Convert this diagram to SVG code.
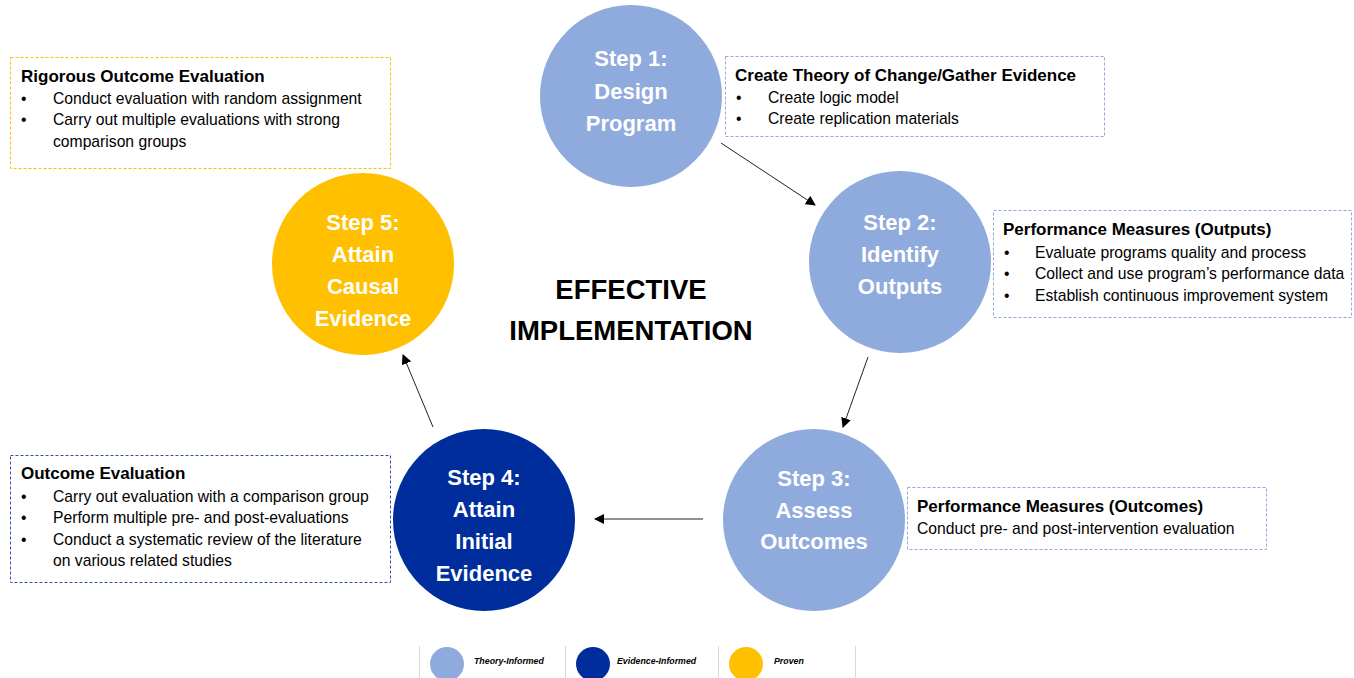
<svg xmlns="http://www.w3.org/2000/svg" width="1354" height="678" viewBox="0 0 1354 678">
<style>
.c1{fill:#8FAADC}.c2{fill:#002D9C}.c3{fill:#FFC000}
.st{font-family:"Liberation Sans",Arial,sans-serif;font-weight:bold;font-size:22px;fill:#fff;text-anchor:middle}
.ctr{font-family:"Liberation Sans",Arial,sans-serif;font-weight:bold;font-size:27.5px;fill:#000;text-anchor:middle}
.bx{fill:#fff;stroke-width:1;stroke-dasharray:3 2}
.tt{font-family:"Liberation Sans",Arial,sans-serif;font-weight:bold;font-size:17px;fill:#000}
.bd{font-family:"Liberation Sans",Arial,sans-serif;font-size:15.7px;fill:#000}
.lg{font-family:"Liberation Sans",Arial,sans-serif;font-weight:bold;font-style:italic;font-size:8.8px;fill:#000}
.cn{stroke:#222;stroke-width:1;fill:none;marker-end:url(#ah)}
</style>
<defs>
<marker id="ah" viewBox="0 0 10 10" refX="9" refY="5" markerWidth="10" markerHeight="10" markerUnits="userSpaceOnUse" orient="auto">
<path d="M0,0 L10,5 L0,10 z" fill="#000"/>
</marker>
</defs>
<rect width="1354" height="678" fill="#fff"/>

<g id="connectors">
<line class="cn" x1="721" y1="143" x2="815" y2="205"/>
<line class="cn" x1="868" y1="357" x2="843" y2="427"/>
<line class="cn" x1="703" y1="519" x2="595" y2="519"/>
<line class="cn" x1="433" y1="427" x2="403" y2="355"/>
</g>

<g id="step1">
<circle class="c1" cx="631" cy="96" r="91"/>
<text class="st" x="631" y="66">Step 1:</text>
<text class="st" x="631" y="99">Design</text>
<text class="st" x="631" y="131">Program</text>
</g>
<g id="step2">
<circle class="c1" cx="900" cy="262" r="91"/>
<text class="st" x="900" y="230">Step 2:</text>
<text class="st" x="900" y="262">Identify</text>
<text class="st" x="900" y="294">Outputs</text>
</g>
<g id="step3">
<circle class="c1" cx="814" cy="520" r="91"/>
<text class="st" x="814" y="486">Step 3:</text>
<text class="st" x="814" y="518">Assess</text>
<text class="st" x="814" y="549">Outcomes</text>
</g>
<g id="step4">
<circle class="c2" cx="484" cy="520" r="91"/>
<text class="st" x="484" y="485">Step 4:</text>
<text class="st" x="484" y="517">Attain</text>
<text class="st" x="484" y="549">Initial</text>
<text class="st" x="484" y="581">Evidence</text>
</g>
<g id="step5">
<circle class="c3" cx="363" cy="264" r="91"/>
<text class="st" x="363" y="230">Step 5:</text>
<text class="st" x="363" y="262">Attain</text>
<text class="st" x="363" y="294">Causal</text>
<text class="st" x="363" y="326">Evidence</text>
</g>

<g id="center-label">
<text class="ctr" x="631" y="299">EFFECTIVE</text>
<text class="ctr" x="631" y="340">IMPLEMENTATION</text>
</g>

<g id="box-rigorous">
<rect class="bx" x="10.5" y="57.5" width="380" height="111" stroke="#FFC000"/>
<text class="tt" x="21" y="82">Rigorous Outcome Evaluation</text>
<text class="bd" x="21" y="104">•</text><text class="bd" x="53" y="104">Conduct evaluation with random assignment</text>
<text class="bd" x="21" y="125">•</text><text class="bd" x="53" y="125">Carry out multiple evaluations with strong</text>
<text class="bd" x="53" y="147">comparison groups</text>
</g>

<g id="box-theory">
<rect class="bx" x="725.5" y="56.5" width="379" height="80" stroke="#8FAADC"/>
<text class="tt" x="735" y="81">Create Theory of Change/Gather Evidence</text>
<text class="bd" x="736" y="103">•</text><text class="bd" x="768" y="103">Create logic model</text>
<text class="bd" x="736" y="124">•</text><text class="bd" x="768" y="124">Create replication materials</text>
</g>

<g id="box-outputs">
<rect class="bx" x="993.5" y="210.5" width="358" height="107" stroke="#8FAADC"/>
<text class="tt" x="1003" y="235">Performance Measures (Outputs)</text>
<text class="bd" x="1004" y="258">•</text><text class="bd" x="1035" y="258">Evaluate programs quality and process</text>
<text class="bd" x="1004" y="279">•</text><text class="bd" x="1035" y="279">Collect and use program’s performance data</text>
<text class="bd" x="1004" y="301">•</text><text class="bd" x="1035" y="301">Establish continuous improvement system</text>
</g>

<g id="box-outcome-eval">
<rect class="bx" x="10.5" y="455.5" width="380" height="127" stroke="#2F4FB5"/>
<text class="tt" x="21" y="479">Outcome Evaluation</text>
<text class="bd" x="21" y="502">•</text><text class="bd" x="53" y="502">Carry out evaluation with a comparison group</text>
<text class="bd" x="21" y="523">•</text><text class="bd" x="53" y="523">Perform multiple pre- and post-evaluations</text>
<text class="bd" x="21" y="545">•</text><text class="bd" x="53" y="545">Conduct a systematic review of the literature</text>
<text class="bd" x="53" y="566">on various related studies</text>
</g>

<g id="box-outcomes">
<rect class="bx" x="907.5" y="487.5" width="359" height="62" stroke="#8FAADC"/>
<text class="tt" x="917" y="512">Performance Measures (Outcomes)</text>
<text class="bd" x="917" y="534">Conduct pre- and post-intervention evaluation</text>
</g>

<g id="legend">
<line x1="419.5" y1="646" x2="419.5" y2="678" stroke="#d9d9d9"/>
<line x1="565.5" y1="646" x2="565.5" y2="678" stroke="#d9d9d9"/>
<line x1="718.5" y1="646" x2="718.5" y2="678" stroke="#d9d9d9"/>
<line x1="855.5" y1="646" x2="855.5" y2="678" stroke="#d9d9d9"/>
<circle class="c1" cx="447" cy="664" r="17"/>
<circle class="c2" cx="593" cy="664" r="17"/>
<circle class="c3" cx="746" cy="664" r="17"/>
<text class="lg" x="474" y="664">Theory-Informed</text>
<text class="lg" x="617" y="664">Evidence-Informed</text>
<text class="lg" x="774" y="664">Proven</text>
</g>
</svg>
